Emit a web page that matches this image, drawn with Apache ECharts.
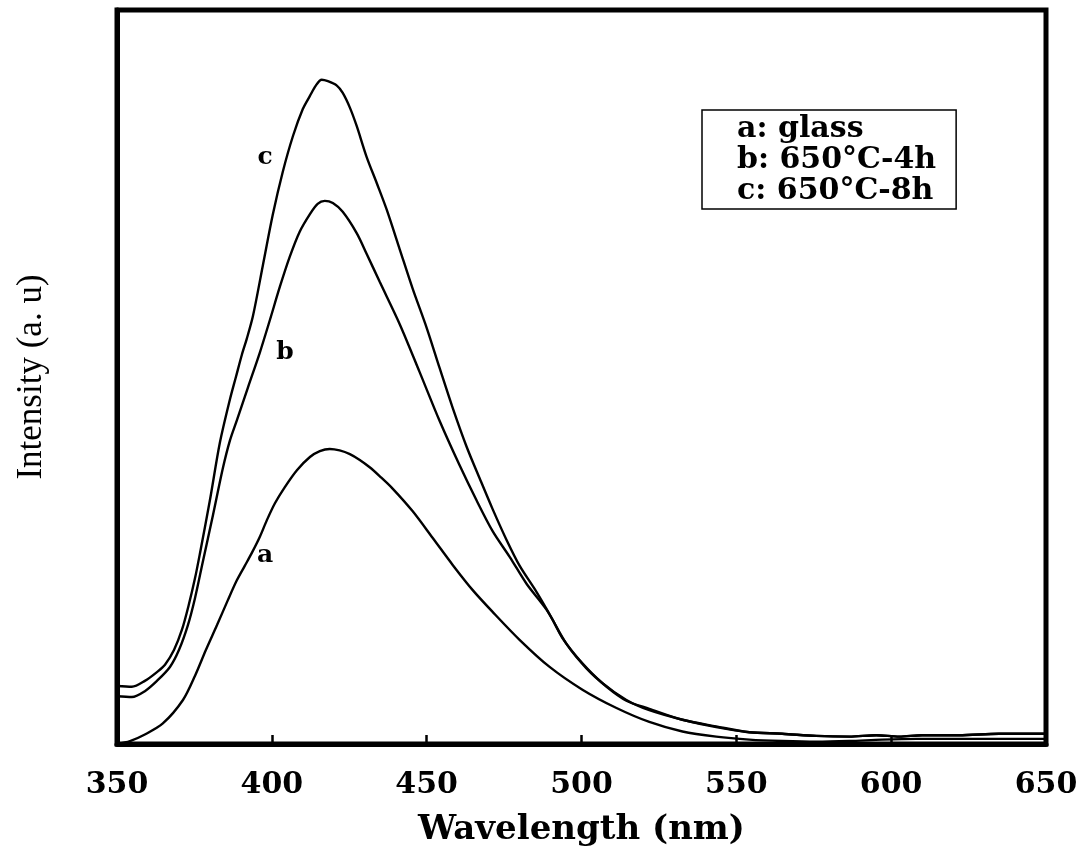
<!DOCTYPE html>
<html><head><meta charset="utf-8">
<script src="https://cdn.jsdelivr.net/npm/echarts@6/dist/echarts.min.js"></script>
<style>html,body{margin:0;padding:0;background:#fff}#c{width:1081px;height:853px}</style>
</head><body><div id="c"></div><script>
const seriesNames = ['a: glass', 'b: 650°C-4h', 'c: 650°C-8h'];
const curveLetters = ['a', 'b', 'c'];
const xTickValues = [350, 400, 450, 500, 550, 600, 650];

const wavelengthA = [350.0,354.2,359.0,364.8,371.3,375.2,378.7,382.3,385.8,388.7,391.3,393.5,396.1,398.4,401.0,404.2,408.1,412.3,415.5,418.7,421.9,425.2,428.4,431.6,434.8,439.0,445.5,451.9,458.4,464.8,471.3,480.0,489.7,500.3,511.3,521.9,532.6,543.5,554.2,564.8,575.8,586.5,597.1,608.1,621.9,634.8,650.0];
const intensityA = [0.0,0.4,1.3,2.8,6.0,9.3,12.8,16.2,19.6,22.3,24.3,26.0,28.2,30.5,32.8,35.0,37.3,39.1,39.9,40.2,40.0,39.5,38.7,37.7,36.5,34.8,31.7,28.1,24.4,21.0,18.0,14.2,10.5,7.4,4.9,3.0,1.7,1.0,0.6,0.4,0.3,0.4,0.6,0.7,0.7,0.7,0.7];

const wavelengthB = [350.0,354.8,359.0,362.9,367.1,370.0,372.9,375.2,377.7,381.0,384.2,386.5,388.7,392.3,396.1,399.4,402.6,405.8,409.0,412.3,414.8,417.1,419.7,422.9,427.4,430.6,434.8,441.3,447.7,454.2,460.6,466.1,471.3,476.8,482.3,488.7,495.2,501.6,508.1,514.5,521.9,532.6,543.5,554.2,564.8,575.8,586.5,595.2,602.6,610.0,621.9,634.8,650.0];
const intensityB = [6.5,6.4,7.2,8.6,10.5,12.8,16.2,19.9,24.8,31.2,37.6,41.4,44.1,48.6,53.3,57.8,62.3,66.4,69.8,72.2,73.6,74.0,73.7,72.5,69.6,66.8,63.0,57.2,50.7,44.0,38.0,33.2,29.0,25.5,21.8,18.3,13.6,10.3,7.8,5.9,4.8,3.3,2.4,1.6,1.4,1.1,1.0,1.2,1.0,1.2,1.2,1.4,1.4];

const wavelengthC = [350.0,354.8,359.0,362.9,365.5,368.4,371.0,373.2,375.2,376.8,380.0,383.2,386.5,388.4,390.3,391.9,393.9,397.1,400.3,403.5,406.8,410.0,412.3,414.2,416.1,418.1,421.0,422.9,425.2,427.4,430.6,433.9,437.1,441.3,445.5,450.0,454.2,458.4,462.9,467.1,471.3,475.8,480.0,485.5,490.6,493.9,500.3,506.8,514.5,521.9,532.6,543.5,554.2,564.8,575.8,586.5,595.2,602.6,610.0,621.9,634.8,650.0];
const intensityC = [7.9,7.8,8.6,9.8,10.8,12.8,15.6,19.0,22.6,26.0,33.2,41.0,47.0,50.0,53.0,55.2,58.3,65.2,72.1,77.9,82.8,86.5,88.3,89.7,90.5,90.3,89.7,88.7,86.7,84.2,80.0,76.4,72.8,67.4,62.0,56.7,51.2,45.8,40.5,36.2,32.0,27.8,24.3,20.7,17.0,14.4,11.0,8.3,6.0,4.6,3.3,2.3,1.6,1.4,1.1,1.0,1.2,1.0,1.2,1.2,1.4,1.4];

const zip = (xs, ys) => xs.map((x, i) => [x, ys[i]]);
const allData = [zip(wavelengthA, intensityA), zip(wavelengthB, intensityB), zip(wavelengthC, intensityC)];

const chart = echarts.init(document.getElementById('c'), null, {renderer: 'canvas'});
const serif = 'DejaVu Serif';
const option = {
  animation: false,
  backgroundColor: '#fff',
  color: ['#000', '#000', '#000'],
  grid: {left: 117, right: 35, top: 10, bottom: 109, show: true, borderColor: '#000', borderWidth: 5, backgroundColor: 'transparent'},
  xAxis: {
    type: 'value', min: xTickValues[0], max: xTickValues[xTickValues.length - 1], interval: 50,
    name: 'Wavelength (nm)', nameLocation: 'middle', nameGap: 69,
    nameTextStyle: {fontFamily: serif, fontWeight: 'bold', fontSize: 34, color: '#000'},
    axisLine: {lineStyle: {color: '#000', width: 5}},
    axisTick: {inside: true, length: 9, lineStyle: {color: '#000', width: 2.5}},
    axisLabel: {margin: 26, fontFamily: serif, fontWeight: 'bold', fontSize: 30, color: '#000'},
    splitLine: {show: false}
  },
  yAxis: {
    type: 'value', min: 0, max: 100,
    name: 'Intensity (a. u)', nameLocation: 'middle', nameGap: 68, nameRotate: 90,
    nameTextStyle: {fontFamily: 'Liberation Serif', fontSize: 35, color: '#000'},
    axisLine: {show: true, lineStyle: {color: '#000', width: 5}},
    axisTick: {show: false}, axisLabel: {show: false}, splitLine: {show: false}
  },
  legend: {
    data: seriesNames, orient: 'vertical', left: 702, top: 110,
    itemWidth: 0, itemHeight: 0, itemGap: 1, padding: [4, 20, 3, 29],
    borderColor: '#000', borderWidth: 1.5, selectedMode: false,
    textStyle: {fontFamily: serif, fontWeight: 'bold', fontSize: 30, color: '#000'}
  },
  graphic: [
    {type: 'text', x: 265, y: 157, style: {text: curveLetters[2], font: 'bold 25px "DejaVu Serif"', fill: '#000', align: 'center', verticalAlign: 'middle'}},
    {type: 'text', x: 285, y: 352, style: {text: curveLetters[1], font: 'bold 25px "DejaVu Serif"', fill: '#000', align: 'center', verticalAlign: 'middle'}},
    {type: 'text', x: 265, y: 555, style: {text: curveLetters[0], font: 'bold 25px "DejaVu Serif"', fill: '#000', align: 'center', verticalAlign: 'middle'}}
  ],
  series: seriesNames.map((name, i) => ({
    name: name, type: 'line', data: allData[i], showSymbol: false, smooth: 0.3,
    lineStyle: {color: '#000', width: 2.4}, itemStyle: {color: '#000'}
  }))
};
chart.setOption(option);
</script></body></html>
